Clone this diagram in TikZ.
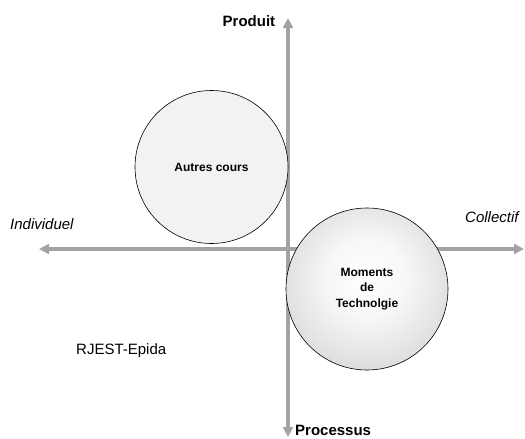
\documentclass[tikz,border=0pt]{standalone}
\usepackage{fontspec}
\setmainfont{Liberation Sans}
\usetikzlibrary{arrows.meta}
\pgfdeclareradialshading{techshade}{\pgfpoint{0bp}{4bp}}{color(0bp)=(white); color(12bp)=(white!97!black); color(30bp)=(black!15); color(50bp)=(black!33); color(60bp)=(black!34)}
\begin{document}
\begin{tikzpicture}[x=1pt,y=-1pt,
  axis/.style={draw=black!36, line width=4.2pt, {Triangle[length=10pt,width=10pt]}-{Triangle[length=10pt,width=10pt]}},
  axislabel/.style={inner sep=0pt, font=\fontsize{15}{18}\selectfont},
  bubble/.style={circle, draw=black, line width=0.6pt, inner sep=0pt, align=center, font=\bfseries\fontsize{12}{15.5}\selectfont}]
\useasboundingbox (0,0) rectangle (525,439);
% axes
\coordinate (W) at (39,249);
\coordinate (E) at (524,249);
\coordinate (N) at (288,18);
\coordinate (S) at (288,437);
\draw[axis] (W) -- (E);
\draw[axis] (S) -- (N);
% circles
\node[bubble, fill=black!5, minimum size=153pt] (autres) at (211.5,167) {Autres cours};
\node[bubble, shading=techshade, minimum size=162pt] (tech) at (367,289) {Moments\\de\\Technolgie};
% labels
\node[axislabel, font=\bfseries\fontsize{15}{18}\selectfont, anchor=base west] (produit) at (222.5,26) {Produit};
\node[axislabel, font=\bfseries\fontsize{15}{18}\selectfont, anchor=base west] (processus) at (295,435) {Processus};
\node[axislabel, font=\itshape\fontsize{15}{18}\selectfont, anchor=base west] (indiv) at (10,229) {Individuel};
\node[axislabel, font=\itshape\fontsize{15}{18}\selectfont, anchor=base west] (coll) at (465,222) {Collectif};
\node[axislabel, anchor=base west] (rjest) at (76,354) {RJEST-Epida};
\end{tikzpicture}
\end{document}
